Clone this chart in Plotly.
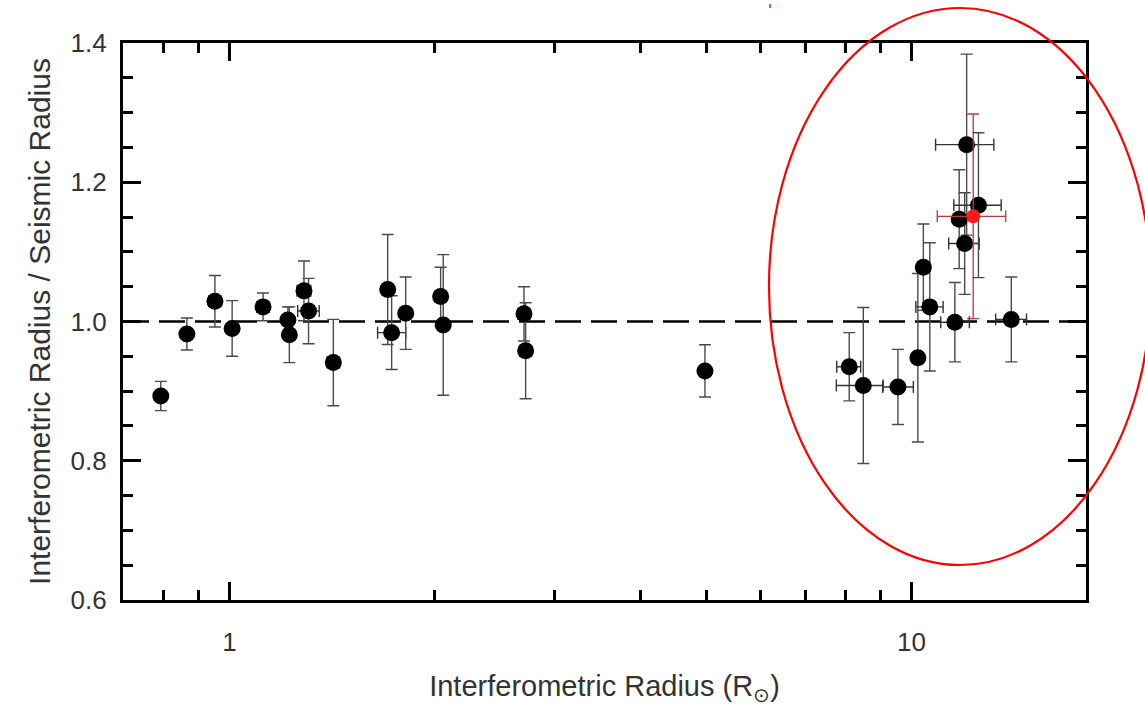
import plotly.graph_objects as go
import math

# ---- data ----
x_black = [0.793, 0.866, 0.952, 1.009, 1.120, 1.218, 1.224, 1.286, 1.306, 1.420,
           1.706, 1.729, 1.813, 2.040, 2.058, 2.703, 2.718, 4.98, 8.106, 8.50,
           9.555, 10.22, 10.64, 10.41, 11.58, 14.01, 12.05, 11.75, 11.97, 12.54]
y_black = [0.893, 0.982, 1.029, 0.990, 1.021, 1.002, 0.981, 1.044, 1.015, 0.941,
           1.046, 0.984, 1.012, 1.036, 0.995, 1.011, 0.958, 0.929, 0.935, 0.908,
           0.906, 0.948, 1.021, 1.078, 0.999, 1.003, 1.254, 1.147, 1.112, 1.167]
yerr_black = [0.021, 0.023, 0.037, 0.040, 0.020, 0.019, 0.040, 0.043, 0.047, 0.062,
              0.079, 0.053, 0.052, 0.042, 0.101, 0.039, 0.069, 0.0375, 0.049, 0.112,
              0.054, 0.121, 0.092, 0.062, 0.057, 0.061, 0.130, 0.071, 0.073, 0.104]
xerr_plus = [0, 0, 0.019, 0, 0.023, 0, 0, 0.03, 0.048, 0.03,
             0, 0.084, 0, 0.04, 0, 0.055, 0.055, 0, 0.319, 0.59,
             0.51, 0, 0.49, 0, 0.58, 0.74, 1.16, 0, 0.60, 1.0]
xerr_minus = [0, 0, 0.019, 0, 0.023, 0, 0, 0.03, 0.047, 0.03,
              0, 0.080, 0, 0.04, 0, 0.055, 0.055, 0, 0.336, 0.74,
              0.48, 0, 0.49, 0, 0.54, 0.72, 1.20, 0, 0.63, 1.0]

x_red = [12.32]
y_red = [1.151]
yerr_red = [0.147]
xerr_red_plus = [1.43]
xerr_red_minus = [1.41]

reference_ratio = 1.0
x_range = [0.698, 18.03]
y_range = [0.6, 1.4]
x_major = [1, 10]
x_major_text = ["1", "10"]
x_minor = [0.8, 0.9, 2, 3, 4, 5, 6, 7, 8, 9]
y_major = [0.6, 0.8, 1.0, 1.2, 1.4]
y_major_text = ["0.6", "0.8", "1.0", "1.2", "1.4"]

fig = go.Figure()

fig.add_trace(go.Scatter(
    x=x_black, y=y_black, mode="markers",
    marker=dict(color="black", size=17),
    error_y=dict(type="data", array=yerr_black, color="#4a4a4a", thickness=1.4, width=6),
    error_x=dict(type="data", array=xerr_plus, arrayminus=xerr_minus,
                 color="#333333", thickness=1.4, width=6),
    showlegend=False,
))

fig.add_trace(go.Scatter(
    x=x_red, y=y_red, mode="markers",
    marker=dict(color="#ff1a1a", size=14),
    error_y=dict(type="data", array=yerr_red, color="#b83a3a", thickness=1.3, width=6),
    error_x=dict(type="data", array=xerr_red_plus, arrayminus=xerr_red_minus,
                 color="#b83a3a", thickness=1.3, width=6),
    showlegend=False,
))

# dashed reference line at ratio = 1
fig.add_shape(type="line", xref="paper", yref="y", x0=0, x1=1,
              y0=reference_ratio, y1=reference_ratio,
              line=dict(color="black", width=2.6, dash="26px,10px"), layer="below")

# red ellipse annotation
fig.add_shape(type="circle", xref="paper", yref="paper",
              x0=0.6708, x1=1.0675, y0=0.0628, y1=1.0628,
              line=dict(color="#ff0000", width=2.2))
# tiny red speck at top
fig.add_shape(type="rect", xref="paper", yref="paper",
              x0=0.6708, x1=0.6728, y0=1.0628, y1=1.0700,
              line=dict(width=0), fillcolor="#ff4040")

font_color = "#333333"
fam = "Liberation Sans, Arial, sans-serif"
fig.update_xaxes(
    type="log", range=[math.log10(x_range[0]), math.log10(x_range[1])],
    tickmode="array", tickvals=x_major, ticktext=x_major_text,
    ticks="inside", ticklen=18, tickwidth=3, tickcolor="black",
    minor=dict(tickmode="array", tickvals=x_minor, ticks="inside", ticklen=10,
               tickwidth=3, tickcolor="black"),
    showline=True, linewidth=3.2, linecolor="black", mirror="allticks",
    showgrid=False, zeroline=False,
    tickfont=dict(family=fam, size=26, color=font_color),
    ticklabelstandoff=17,
    title=dict(text="Interferometric Radius (R<sub>⊙</sub>)",
               font=dict(family=fam, size=29, color=font_color),
               standoff=20),
)
fig.update_yaxes(
    range=y_range, tickmode="array", tickvals=y_major, ticktext=y_major_text,
    ticks="inside", ticklen=18, tickwidth=3, tickcolor="black",
    minor=dict(dtick=0.05, ticks="inside", ticklen=10, tickwidth=3, tickcolor="black"),
    showline=True, linewidth=3.2, linecolor="black", mirror="allticks",
    showgrid=False, zeroline=False,
    tickfont=dict(family=fam, size=26, color=font_color),
    ticklabelstandoff=8,
    title=dict(text="Interferometric Radius / Seismic Radius",
               font=dict(family=fam, size=30, color=font_color),
               standoff=12),
)

fig.update_layout(
    width=1145, height=709,
    margin=dict(l=123, r=59, t=43, b=109, autoexpand=False),
    plot_bgcolor="white", paper_bgcolor="white",
    showlegend=False,
)

fig.write_html("out.html")
